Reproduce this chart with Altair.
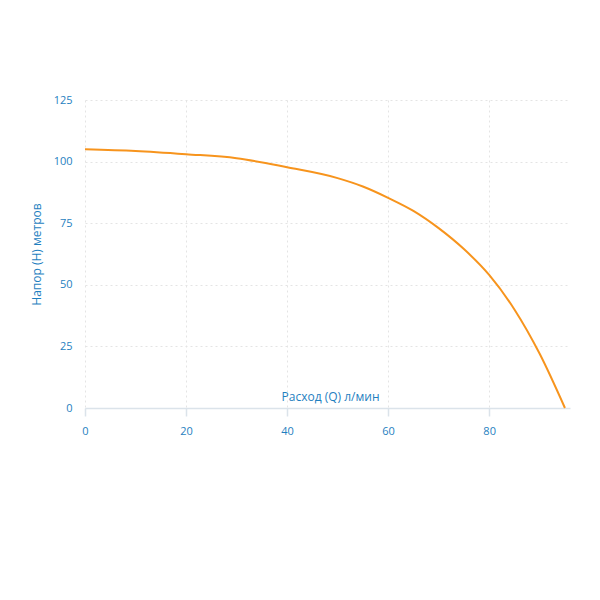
import altair as alt
import pandas as pd

flow = [0, 10, 20, 30, 40, 50, 55, 60, 65, 70, 75, 80, 85, 90, 95]
head = [105, 104.3, 103, 101.4, 97.7, 93.3, 89.9, 85.3, 80, 73, 64.5, 54, 40, 22, 0]

df = pd.DataFrame({"Q": flow, "H": head})

blue = "#1f7fbf"

chart = alt.Chart(df).mark_line(
    color="#f7941d", strokeWidth=2, interpolate="monotone"
).encode(
    x=alt.X("Q:Q", scale=alt.Scale(domain=[0, 96], nice=False),
            axis=alt.Axis(values=[0, 20, 40, 60, 80], title="Расход (Q) л/мин",
                          titleX=245, titleY=-5, titleAnchor="middle",
                          titleAlign="center", titleBaseline="bottom",
                          titleFontWeight="normal", titleFontSize=12, titleColor=blue,
                          labelColor=blue, labelFontSize=11, labelPadding=9,
                          labelFlush=False,
                          domainColor="#dbe3ea", domainWidth=1.5,
                          tickColor="#dbe3ea", tickSize=8, tickWidth=1.5,
                          grid=True, gridColor="#e4e4e4", gridDash=[2, 3])),
    y=alt.Y("H:Q", scale=alt.Scale(domain=[0, 125], nice=False),
            axis=alt.Axis(values=[0, 25, 50, 75, 100, 125], title="Напор (H) метров",
                          titleFontWeight="normal", titleFontSize=12, titleColor=blue,
                          titlePadding=10,
                          labelColor=blue, labelFontSize=11, labelPadding=13,
                          domain=False, ticks=False,
                          grid=True, gridColor="#e4e4e4", gridDash=[2, 3])),
).properties(
    width=485, height=308,
    autosize=alt.AutoSizeParams(type="none"),
    padding={"left": 77, "top": 92, "right": 22, "bottom": 150},
).configure(font="Open Sans").configure_view(stroke=None)

chart.save("out.html", embed_options={"renderer": "svg", "actions": False})
